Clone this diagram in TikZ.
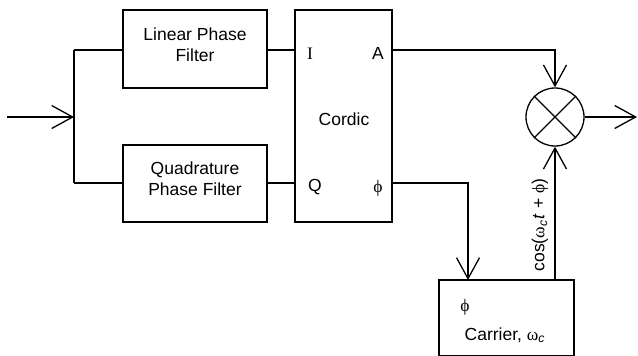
\documentclass[tikz,border=0pt]{standalone}
\usepackage{fontspec}
\setmainfont{Liberation Sans}
\newfontfamily\symfont{Liberation Serif}
\usetikzlibrary{arrows.meta}
\begin{document}
\begin{tikzpicture}[x=1pt,y=-1pt,
  line width=1.3pt,
  font=\fontsize{17.5}{21}\selectfont,
  box/.style={draw,rectangle,inner sep=0pt},
  lbl/.style={inner sep=0pt,anchor=base},
  barb/.style={-{Straight Barb[length=21pt,width=23pt,line join=miter]}},
]
\useasboundingbox (0,0) rectangle (638,356);
% boxes
\node[box,minimum width=144pt,minimum height=78pt] (lpf) at (195,49) {};
\node[box,minimum width=144pt,minimum height=77pt] (qpf) at (195,183.5) {};
\node[box,minimum width=97pt,minimum height=212pt] (cordic) at (343.5,116) {};
\node[draw,circle,minimum size=58pt,inner sep=0pt] (mult) at (555,117) {};
\node[box,minimum width=135pt,minimum height=76pt] (carrier) at (506.5,318) {};
% multiplier cross
\draw (mult.north west) -- (mult.south east);
\draw (mult.north east) -- (mult.south west);
% texts
\node[lbl,align=center] (tl) at (195,61) {Linear Phase\\Filter};
\node[lbl,align=center] (tq) at (195,195) {Quadrature\\Phase Filter};
\node[lbl] (tc) at (344,125) {Cordic};
\node[lbl] (ti) at (310,59) {\symfont I};
\node[lbl] (ta) at (378,59) {A};
\node[lbl] (tqq) at (315,191) {Q};
\node[lbl] (tphi) at (378,192) {\symfont ϕ};
\node[lbl] (cphi) at (465,311) {\symfont ϕ};
\node[lbl,anchor=base west] (ccar) at (464,340) {Carrier, {\symfont ω}\textsubscript{\itshape c}};
\node[rotate=90,inner sep=0pt] (cos) at (540,225) {cos({\symfont ω}\textsubscript{\itshape c}\kern1pt\textit{t} + {\symfont ϕ})};
% input
\coordinate (in) at (7,117);
\coordinate (j) at (74,117);
\coordinate (jt) at (74,50);
\coordinate (jb) at (74,183);
\coordinate (out) at (637,117);
\draw[barb] (in) -- (j);
\draw (jt) -- (jb);
\draw (jt) -- (lpf.west |- jt);
\draw (jb) -- (qpf.west |- jb);
\draw (lpf.east |- jt) -- (cordic.west |- jt);
\draw (qpf.east |- jb) -- (cordic.west |- jb);
% outputs
\draw[barb] (cordic.east |- jt) -| (mult.north);
\coordinate (cin) at (468,280);
\draw[barb] (cordic.east |- jb) -| (cin);
\draw[barb] (carrier.north -| mult.south) -- (mult.south);
\draw[barb] (mult.east) -- (out);
\end{tikzpicture}
\end{document}
